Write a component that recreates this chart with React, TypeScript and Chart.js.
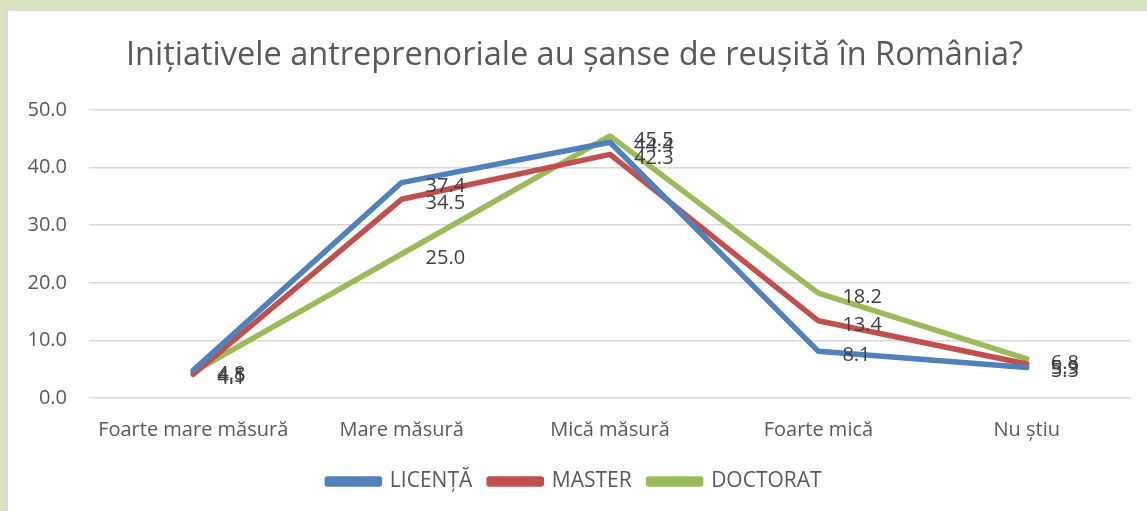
import React, { useEffect, useRef } from "react";
import { Chart, registerables } from "chart.js";

Chart.register(...registerables);

const categories = ["Foarte mare măsură", "Mare măsură", "Mică măsură", "Foarte mică", "Nu știu"];
const licenta = [4.8, 37.4, 44.4, 8.1, 5.3];
const master = [4.1, 34.5, 42.3, 13.4, 5.9];
const doctorat = [4.5, 25.0, 45.5, 18.2, 6.8];
const seriesNames = ["LICENȚĂ", "MASTER", "DOCTORAT"];
const yTicks = [0, 10, 20, 30, 40, 50];
const titleText = "Inițiativele antreprenoriale au șanse de reușită în România?";

const FONT = "'Open Sans', 'Noto Sans', sans-serif";
const TEXT = "#595959";

const labelPlugin = {
  id: "pointLabels",
  afterDatasetsDraw(chart: any) {
    const ctx = chart.ctx;
    ctx.save();
    ctx.font = `20px ${FONT}`;
    ctx.fillStyle = "#404040";
    ctx.textAlign = "left";
    ctx.textBaseline = "middle";
    chart.data.datasets.forEach((ds: any, i: number) => {
      const meta = chart.getDatasetMeta(i);
      meta.data.forEach((pt: any, j: number) => {
        ctx.fillText(Number(ds.data[j]).toFixed(1), pt.x + 24, pt.y + 4);
      });
    });
    ctx.restore();
  },
};

export default function App() {
  const ref = useRef<HTMLCanvasElement | null>(null);
  useEffect(() => {
    document.body.style.margin = "0";
    const colors = ["#4F81BD", "#C0504D", "#9BBB59"];
    const values = [licenta, master, doctorat];
    const chart = new Chart(ref.current as HTMLCanvasElement, {
      type: "line",
      data: {
        labels: categories,
        datasets: values.map((v, i) => ({
          label: seriesNames[i],
          data: v,
          borderColor: colors[i],
          backgroundColor: colors[i],
          borderWidth: 5.5,
          pointRadius: 0,
          pointHoverRadius: 0,
          tension: 0,
          borderJoinStyle: "round" as const,
          borderCapStyle: "round" as const,
        })),
      },
      options: {
        animation: false,
        responsive: false,
        maintainAspectRatio: false,
        layout: { padding: { left: 10, right: 16, top: 0, bottom: 9 } },
        plugins: {
          title: {
            display: true,
            text: titleText,
            color: TEXT,
            font: { family: FONT, size: 32.5, weight: "normal" },
            padding: { top: 25, bottom: 35 },
          },
          legend: {
            position: "bottom",
            labels: {
              boxWidth: 52,
              boxHeight: 5,
              color: TEXT,
              font: { family: FONT, size: 21 },
              padding: 17,
            },
          },
          tooltip: { enabled: false },
        },
        scales: {
          x: {
            offset: true,
            grid: { display: false },
            border: { display: false },
            ticks: { color: TEXT, font: { family: FONT, size: 20 }, padding: 12, maxRotation: 0 },
          },
          y: {
            min: yTicks[0],
            max: yTicks[yTicks.length - 1],
            grid: { color: "#d9d9d9", lineWidth: 1.5, drawTicks: false },
            border: { display: false },
            afterBuildTicks: (s: any) => {
              s.ticks = yTicks.map((v) => ({ value: v }));
            },
            afterFit: (s: any) => {
              s.width = 71;
            },
            ticks: {
              color: TEXT,
              font: { family: FONT, size: 20 },
              padding: 22,
              callback: (v: any) => Number(v).toFixed(1),
            },
          },
        },
      },
      plugins: [labelPlugin],
    });
    return () => chart.destroy();
  }, []);

  return (
    <div style={{ position: "absolute", left: 0, top: 0, width: 1147, height: 511, background: "#D7E4BD", overflow: "hidden" }}>
      <div style={{ position: "absolute", left: 6, top: 9, width: 1141, height: 502, background: "#ffffff", borderTop: "2px solid #d9d9d9", borderLeft: "2px solid #d9d9d9" }}>
        <canvas ref={ref} width={1139} height={500} style={{ display: "block", width: 1139, height: 500 }} />
      </div>
    </div>
  );
}
